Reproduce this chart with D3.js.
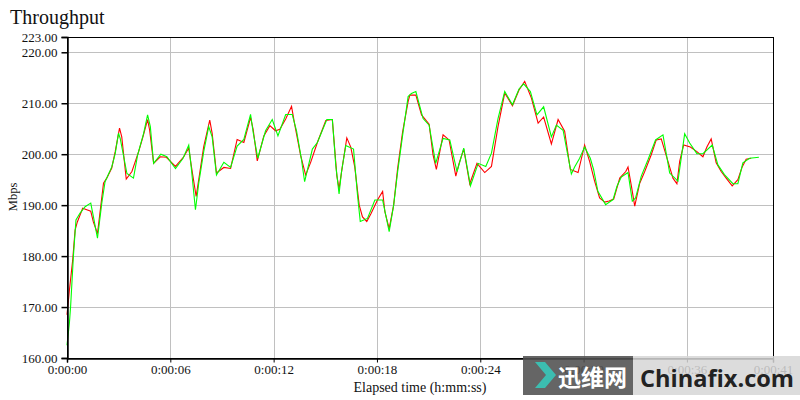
<!DOCTYPE html>
<html>
<head>
<meta charset="utf-8">
<script src="https://cdn.jsdelivr.net/npm/d3@7"></script>
<style>
  html, body { margin: 0; padding: 0; background: #ffffff; }
  svg { display: block; }
</style>
</head>
<body>
<svg id="chart" width="800" height="400"></svg>
<script>
// ---------------- DATA ----------------
const chartTitle = "Throughput";
const xAxisTitle = "Elapsed time (h:mm:ss)";
const yAxisTitle = "Mbps";
const yTickValues = [160, 170, 180, 190, 200, 210, 220, 223];
const xTickSeconds = [0, 6, 12, 18, 24, 30, 36, 41];
const xDomain = [0, 41];
const yDomain = [160, 223];

const redTimes = [0.00,0.14,0.33,0.47,0.60,0.91,1.15,1.38,1.53,1.77,2.12,2.31,2.60,2.80,3.05,3.18,3.44,3.77,4.16,4.41,4.68,4.80,5.03,5.42,5.77,6.30,6.78,7.07,7.21,7.50,7.65,7.94,8.29,8.43,8.68,9.11,9.50,9.88,10.27,10.66,10.81,11.05,11.43,11.78,12.11,12.36,12.70,13.04,13.22,13.57,13.86,14.15,14.54,15.03,15.41,15.67,15.80,16.00,16.25,16.48,16.71,16.97,17.16,17.41,17.65,18.03,18.33,18.46,18.71,18.97,19.20,19.49,19.81,19.91,20.26,20.59,21.03,21.26,21.45,21.84,22.19,22.58,22.77,23.04,23.39,23.81,24.26,24.65,25.03,25.42,25.87,26.25,26.58,26.97,27.36,27.68,28.13,28.52,28.90,29.23,29.68,30.06,30.35,30.64,30.93,31.23,31.48,31.75,32.10,32.45,32.58,32.78,32.97,33.26,33.55,33.93,34.22,34.51,34.90,35.19,35.42,35.58,35.81,36.20,36.58,36.93,37.16,37.41,37.70,37.99,38.28,38.63,38.96,39.21,39.44,39.73];
const redValues = [168.5,173.3,179.2,185.1,186.7,189.4,189.1,188.8,186.7,184.4,194.3,195.3,197.3,200.5,205.1,203.4,195.1,196.6,200.5,203.4,206.8,204.7,198.2,199.5,199.4,197.6,199.5,201.2,197.9,191.7,195.0,201.5,206.7,204.1,196.3,197.4,197.2,202.9,202.3,207.2,204.9,198.7,203.6,205.6,204.6,204.9,206.9,209.4,205.9,199.7,195.9,198.4,202.3,206.6,206.8,195.8,193.2,197.8,203.2,201.4,197.5,190.0,187.7,186.8,188.3,191.0,192.7,188.7,185.4,190.0,197.2,204.4,210.3,211.6,211.6,207.7,205.9,199.8,197.0,203.8,202.8,195.7,198.2,201.0,194.2,198.2,196.4,197.6,205.4,212.0,209.5,212.6,214.3,211.0,206.1,207.3,202.0,206.8,204.5,197.0,196.4,201.8,198.6,194.7,191.4,190.6,190.8,191.2,195.3,196.6,197.5,193.7,189.8,194.3,196.6,199.9,202.8,203.0,198.6,195.3,194.2,198.6,201.8,201.4,200.5,199.5,201.4,203.0,198.3,196.6,195.3,193.8,195.0,197.5,199.0,199.2];

const greenTimes = [0.00,0.14,0.21,0.37,0.52,0.75,1.05,1.38,1.53,1.77,2.02,2.21,2.60,2.80,2.99,3.09,3.48,3.86,4.10,4.45,4.68,4.84,5.03,5.45,5.80,6.30,6.74,7.07,7.21,7.46,7.65,7.94,8.23,8.43,8.68,9.11,9.50,9.88,10.27,10.66,10.81,11.08,11.53,11.92,12.25,12.70,13.08,13.33,13.61,13.80,14.25,14.54,15.09,15.41,15.61,15.80,15.94,16.19,16.64,16.87,17.03,17.45,17.88,18.33,18.71,18.97,19.20,19.49,19.81,20.00,20.26,20.68,21.03,21.41,21.84,22.23,22.65,23.04,23.43,23.88,24.32,24.65,25.03,25.42,25.87,26.25,26.52,26.91,27.29,27.68,28.13,28.42,28.81,29.29,29.48,29.77,30.06,30.39,30.58,30.83,31.28,31.71,31.94,32.19,32.58,32.83,33.02,33.35,33.74,34.18,34.61,35.00,35.48,35.87,36.16,36.58,36.93,37.47,37.80,38.18,38.67,38.96,39.25,39.64,40.18];
const greenValues = [162.5,166.9,170.1,179.9,187.1,188.4,189.7,190.4,187.8,183.5,190.4,194.6,197.5,200.1,204.1,203.1,196.2,195.3,199.8,204.1,207.7,205.4,198.2,200.0,199.5,197.2,199.2,201.8,197.6,189.1,194.3,200.5,205.4,203.4,195.9,198.4,197.4,201.6,202.9,207.8,204.3,199.2,204.6,206.8,203.6,207.8,207.8,204.6,199.1,194.6,201.0,202.3,206.8,206.8,197.8,192.2,196.5,201.7,201.0,192.0,186.8,187.4,191.0,191.0,184.8,190.0,196.5,203.7,211.3,211.9,212.3,207.0,205.7,198.2,203.1,202.8,196.6,201.2,193.8,198.2,197.6,200.2,207.0,212.3,209.7,212.8,213.8,212.3,207.7,209.3,203.4,205.7,204.7,196.1,197.5,199.2,201.4,199.2,197.0,192.7,190.1,191.1,193.7,195.5,196.4,190.8,191.4,195.7,198.9,202.8,203.8,196.3,194.7,204.0,202.2,200.1,200.1,201.8,197.9,196.0,194.2,194.2,198.3,199.2,199.4];

// ---------------- LAYOUT ----------------
const svg = d3.select("#chart");
const plot = { left: 67, right: 773, top: 37, bottom: 358 };
const serif = "'Liberation Serif', 'DejaVu Serif', serif";

const x = d3.scaleLinear().domain(xDomain).range([plot.left, plot.right]);
const y = d3.scaleLinear().domain(yDomain).range([plot.bottom, plot.top]);

function fmtTime(s) {
  const h = Math.floor(s / 3600);
  const m = Math.floor((s % 3600) / 60);
  const sec = Math.round(s % 60);
  return h + ":" + String(m).padStart(2, "0") + ":" + String(sec).padStart(2, "0");
}

// grid
const grid = svg.append("g").attr("stroke", "#c0c0c0").attr("stroke-width", 1).attr("shape-rendering", "crispEdges");
grid.selectAll("line.h").data(yTickValues.filter(v => v > yDomain[0] && v < yDomain[1]))
  .join("line").attr("class", "h")
  .attr("x1", plot.left).attr("x2", plot.right)
  .attr("y1", d => Math.round(y(d)) + 0.5).attr("y2", d => Math.round(y(d)) + 0.5);
grid.selectAll("line.v").data(xTickSeconds.filter(v => v > xDomain[0] && v < xDomain[1]))
  .join("line").attr("class", "v")
  .attr("y1", plot.top).attr("y2", plot.bottom)
  .attr("x1", d => Math.round(x(d)) + 0.5).attr("x2", d => Math.round(x(d)) + 0.5);

// lines
const lineGen = d3.line().x(d => x(d[0])).y(d => y(d[1]));
const redData = redTimes.map((t, i) => [t, redValues[i]]);
const greenData = greenTimes.map((t, i) => [t, greenValues[i]]);
svg.append("path").datum(redData).attr("d", lineGen)
  .attr("fill", "none").attr("stroke", "#ff0000").attr("stroke-width", 1.1);
svg.append("path").datum(greenData).attr("d", lineGen)
  .attr("fill", "none").attr("stroke", "#00ff00").attr("stroke-width", 1.1);

// frame (top & right)
svg.append("rect")
  .attr("x", plot.left + 0.5).attr("y", plot.top + 0.5)
  .attr("width", plot.right - plot.left).attr("height", plot.bottom - plot.top)
  .attr("fill", "none").attr("stroke", "#000").attr("stroke-width", 1.2)
  .attr("shape-rendering", "crispEdges");

// y axis
const yAxis = d3.axisLeft(y).tickValues(yTickValues).tickSize(6).tickPadding(4)
  .tickFormat(d => d.toFixed(2));
const gy = svg.append("g").attr("transform", `translate(${plot.left + 0.5},0)`).call(yAxis);
gy.select(".domain").attr("stroke", "#000").attr("stroke-width", 1.5);
gy.selectAll(".tick line").attr("stroke", "#000").attr("stroke-width", 1.5);
gy.selectAll("text").attr("font-family", serif).attr("font-size", 13).attr("fill", "#111");

// x axis
const xAxis = d3.axisBottom(x).tickValues(xTickSeconds).tickSize(4).tickPadding(2)
  .tickFormat(fmtTime);
const gx = svg.append("g").attr("transform", `translate(0,${plot.bottom + 0.5})`).call(xAxis);
gx.select(".domain").attr("stroke", "#000").attr("stroke-width", 1.5);
gx.selectAll(".tick line").attr("stroke", "#000");
gx.selectAll("text").attr("font-family", serif).attr("font-size", 13).attr("fill", "#111");

// titles
svg.append("text").attr("x", 10).attr("y", 24).text(chartTitle)
  .attr("font-family", serif).attr("font-size", 20).attr("fill", "#111");
svg.append("text").attr("x", 420).attr("y", 392)
  .attr("text-anchor", "middle").text(xAxisTitle)
  .attr("font-family", serif).attr("font-size", 14).attr("fill", "#111");
svg.append("text").attr("transform", "translate(17,197) rotate(-90)")
  .attr("text-anchor", "middle").text(yAxisTitle)
  .attr("font-family", serif).attr("font-size", 12.5).attr("fill", "#111");

// watermark overlay (as in the source image)
const wm = svg.append("g");
wm.append("rect").attr("x", 523).attr("y", 356).attr("width", 110).attr("height", 39)
  .attr("fill", "#505050").attr("opacity", 0.88);
wm.append("rect").attr("x", 633).attr("y", 356).attr("width", 167).attr("height", 39)
  .attr("fill", "#d6d6d6").attr("opacity", 0.85);
wm.append("path").attr("d", "M535,362 L545,362 L556,375 L545,388 L535,388 L546,375 Z")
  .attr("fill", "#3cbdb0");
wm.append("text").attr("x", 558).attr("y", 386).text("迅维网")
  .attr("font-family", "'Noto Sans CJK SC', sans-serif").attr("font-weight", "bold")
  .attr("font-size", 23).attr("fill", "#ffffff");
wm.append("text").attr("x", 640).attr("y", 387).text("Chinafix.com")
  .attr("font-family", "'Open Sans', 'DejaVu Sans', sans-serif").attr("font-weight", "bold")
  .attr("font-size", 23).attr("textLength", 154).attr("lengthAdjust", "spacingAndGlyphs")
  .attr("fill", "#222222");
</script>
</body>
</html>
